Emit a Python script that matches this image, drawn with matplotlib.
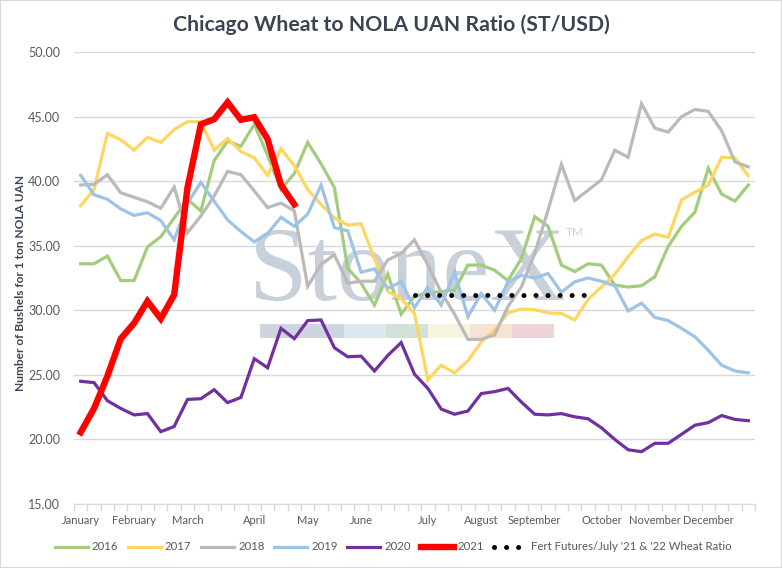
import numpy as np
import matplotlib
matplotlib.use('Agg')
import matplotlib.pyplot as plt
from matplotlib.patches import Rectangle

plt.rcParams['font.family'] = ['Lato', 'DejaVu Sans']

#--------------------------------------------------------------------------#
# Data (weekly, 51 categories)
#--------------------------------------------------------------------------#
month_labels = {0: 'January', 4: 'February', 8: 'March', 13: 'April', 17: 'May',
                21: 'June', 26: 'July', 30: 'August', 34: 'September',
                39: 'October', 43: 'November', 47: 'December'}
n_weeks = 51

y2016 = [33.6, 33.6, 34.2, 32.3, 32.3, 34.9, 35.7, 37.15, 38.6, 37.7, 41.6, 43.1, 42.7,
         44.4, 42.0, 39.35, 40.6, 43.0, 41.35, 39.5, 33.25, 32.1, 30.4, 32.8, 29.7, 31.1,
         31.35, 31.45, 31.55, 33.5, 33.5, 33.1, 32.3, 34.0, 37.25, 36.5, 33.5, 33.0, 33.6,
         33.5, 31.95, 31.8, 31.9, 32.6, 34.95, 36.5, 37.6, 41.0, 39.0, 38.45, 39.7]
y2017 = [38.1, 39.35, 43.7, 43.2, 42.4, 43.4, 43.0, 44.0, 44.6, 44.6, 42.4, 43.3, 42.3,
         41.8, 40.45, 42.5, 41.2, 39.35, 38.2, 37.15, 36.6, 36.7, 34.0, 31.45, 30.9, 29.75,
         24.6, 25.75, 25.15, 26.1, 27.55, 28.45, 29.8, 30.1, 30.05, 29.8, 29.75, 29.25,
         30.85, 31.8, 32.8, 34.15, 35.4, 35.9, 35.65, 38.55, 39.15, 39.7, 41.85, 41.8, 40.4]
y2018 = [39.7, 39.75, 40.5, 39.1, 38.75, 38.4, 37.9, 39.55, 36.0, 37.3, 38.85, 40.75, 40.5,
         39.25, 37.95, 38.3, 37.7, 31.85, 33.55, 34.3, 32.1, 32.25, 32.25, 33.9, 34.4, 35.45,
         33.5, 31.4, 29.7, 27.75, 27.75, 28.1, 30.3, 31.8, 34.4, 37.75, 41.3, 38.5, 39.3,
         40.1, 42.4, 41.85, 46.0, 44.1, 43.8, 45.0, 45.55, 45.4, 43.9, 41.5, 41.1]
y2019 = [40.45, 38.95, 38.6, 37.85, 37.35, 37.55, 36.95, 35.45, 38.3, 39.9, 38.45, 37.0,
         36.1, 35.3, 35.95, 37.2, 36.5, 37.45, 39.7, 36.4, 36.15, 32.95, 33.2, 31.7, 32.2,
         30.2, 31.8, 30.4, 32.95, 29.5, 31.3, 30.0, 32.2, 32.7, 32.5, 32.85, 31.4, 32.2,
         32.5, 32.25, 31.9, 29.95, 30.55, 29.45, 29.2, 28.6, 27.95, 26.9, 25.75, 25.3, 25.15]
y2020 = [24.5, 24.4, 23.0, 22.4, 21.9, 22.0, 20.6, 21.0, 23.1, 23.15, 23.85, 22.85, 23.25,
         26.25, 25.55, 28.6, 27.8, 29.2, 29.25, 27.1, 26.4, 26.45, 25.3, 26.5, 27.5, 25.05,
         23.95, 22.35, 21.95, 22.2, 23.55, 23.7, 23.95, 22.9, 21.95, 21.9, 22.0, 21.75,
         21.6, 20.9, 20.0, 19.2, 19.05, 19.7, 19.7, 20.4, 21.1, 21.3, 21.85, 21.55, 21.45]
y2021 = [20.55, 22.4, 24.9, 27.8, 29.0, 30.7, 29.35, 31.2, 39.5, 44.4, 44.8, 46.1, 44.75,
         44.95, 43.25, 39.7, 38.2]
fert_start = 25
fert = [31.2, 31.2, 31.2, 31.2, 31.2, 31.2, 31.2, 31.2, 31.2, 31.2, 31.2, 31.2, 31.2, 31.2]

series = [('2016', y2016, '#A2CD7C', 2.3),
          ('2017', y2017, '#FFD65F', 2.3),
          ('2018', y2018, '#BABABA', 2.3),
          ('2019', y2019, '#9DC3E6', 2.3),
          ('2020', y2020, '#7030A0', 2.3),
          ('2021', y2021, '#FF0000', 4.6)]

W, H = 782, 568
fig = plt.figure(figsize=(W / 100, H / 100), dpi=100)
fig.patch.set_facecolor('white')

def fx(px):
    return px / W

def fy(py):
    return 1 - py / H

ax = fig.add_axes([fx(74), fy(504), fx(755) - fx(74), fy(52) - fy(504)])

# watermark, kept under the lines
ax.text(fx(407), fy(300), 'StoneX', family=['Liberation Serif', 'DejaVu Serif'],
        fontsize=76, color='#C8D0DA', ha='center', va='baseline', zorder=1,
        transform=fig.transFigure, clip_on=False)
ax.text(fx(566), fy(233), 'TM', fontsize=8.5, color='#C8D0DA', ha='left',
        va='center', zorder=1, transform=fig.transFigure, clip_on=False)
wm_cols = ['#CED5DE', '#CED5DE', '#DDE8F0', '#D2E2D8', '#F6F3DE', '#F5E4D2', '#EED5D8']
for k, c in enumerate(wm_cols):
    ax.add_patch(Rectangle((fx(260 + 42 * k), fy(338)), fx(42), fy(324) - fy(338),
                           transform=fig.transFigure, facecolor=c, edgecolor='none',
                           zorder=1, clip_on=False))

x = np.arange(n_weeks)
for name, vals, col, lw in series:
    ax.plot(x[:len(vals)], vals, color=col, lw=lw, label=name,
            solid_joinstyle='miter', zorder=3)

fx_idx = np.arange(fert_start, fert_start + len(fert))
ax.plot(fx_idx, fert, color='black', lw=3.6, linestyle=(0, (0.01, 2.4)),
        dash_capstyle='round', zorder=4, label="Fert Futures/July '21 & '22 Wheat Ratio")

ax.set_xlim(-0.5, n_weeks - 0.5)
ax.set_ylim(15, 50)
ax.set_yticks(np.arange(15, 50.1, 5))
ax.set_yticklabels(['%.2f' % v for v in np.arange(15, 50.1, 5)])
ax.yaxis.grid(True, color='#D9D9D9', lw=1, zorder=0.5)
ax.set_axisbelow(True)
ax.tick_params(axis='y', length=0, labelsize=9, labelcolor='#595959', pad=10)

ax.set_xticks(list(month_labels.keys()))
ax.set_xticklabels(list(month_labels.values()))
ax.set_xticks(np.arange(-0.5, n_weeks, 1), minor=True)
ax.tick_params(axis='x', which='major', length=0, labelsize=8.0, labelcolor='#595959', pad=8)
ax.tick_params(axis='x', which='minor', length=5, color='#D9D9D9', width=1)

for s in ['top', 'right', 'left']:
    ax.spines[s].set_visible(False)
ax.spines['bottom'].set_color('#D9D9D9')

ax.set_ylabel('Number of Bushels for 1 ton NOLA UAN', fontsize=8.6, fontweight='bold',
              color='#3B4453')
ax.yaxis.set_label_coords(-(74 - 26) / 681, 0.49)

fig.text(fx(391), fy(25), 'Chicago Wheat to NOLA UAN Ratio (ST/USD)', fontsize=15.3,
         fontweight='bold', color='#3B4453', ha='center', va='center')

handles, labels = ax.get_legend_handles_labels()
fig.legend(handles, labels, loc='center', bbox_to_anchor=(fx(393), fy(547)),
           ncol=7, frameon=False, fontsize=8.2, handlelength=2.9, handletextpad=0.35,
           columnspacing=0.85, labelcolor='#595959')

fig.add_artist(Rectangle((0, 0), 1, 1, transform=fig.transFigure, fill=False,
                         edgecolor='#D9D9D9', lw=1.5))

fig.savefig('out.png', dpi=100)
